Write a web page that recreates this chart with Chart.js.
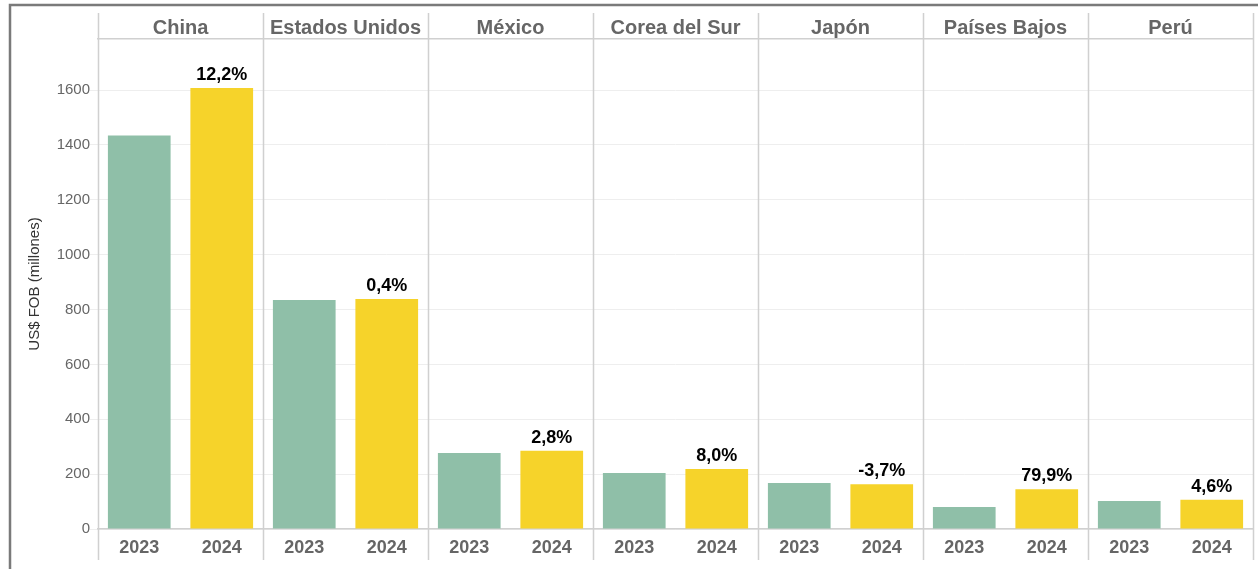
<!DOCTYPE html>
<html>
<head>
<meta charset="utf-8">
<script src="https://cdn.jsdelivr.net/npm/chart.js@4"></script>
<style>
  body { margin: 0; background: #fff; }
  #wrap { width: 1258px; height: 569px; position: relative; }
</style>
</head>
<body>
<div id="wrap"><canvas id="bar-chart"></canvas></div>
<script>
var countries = ['China', 'Estados Unidos', 'México', 'Corea del Sur', 'Japón', 'Países Bajos', 'Perú'];
var years = ['2023', '2024'];
var values2023 = [1434, 835, 277, 204, 168, 80, 102];
var values2024 = [1607, 838, 285, 219, 163, 145, 107];
var growthLabels = ['12,2%', '0,4%', '2,8%', '8,0%', '-3,7%', '79,9%', '4,6%'];
var yTicks = [0, 200, 400, 600, 800, 1000, 1200, 1400, 1600];

var green = '#8fbfa8';
var yellow = '#f6d32a';

// one bar per country/year, in order
var labels = [];
var values = [];
var colors = [];
countries.forEach(function(c, i) {
  labels.push(years[0], years[1]);
  values.push(values2023[i], values2024[i]);
  colors.push(green, yellow);
});

var frameAndSeparators = {
  id: 'frameAndSeparators',
  afterDraw: function(chart) {
    var ctx = chart.ctx;
    var area = chart.chartArea;
    var step = (area.right - area.left) / countries.length;
    ctx.save();
    ctx.strokeStyle = '#d0d0d0';
    ctx.lineWidth = 1.5;
    for (var i = 0; i <= countries.length; i++) {
      var x = Math.round(area.left + i * step) + 0.5;
      ctx.beginPath();
      ctx.moveTo(x, 13);
      ctx.lineTo(x, 560);
      ctx.stroke();
    }
    // outer frame
    ctx.strokeStyle = '#7a7a7a';
    ctx.lineWidth = 2.5;
    ctx.beginPath();
    ctx.moveTo(10, 569);
    ctx.lineTo(10, 5);
    ctx.lineTo(1258, 5);
    ctx.stroke();
    ctx.restore();
  }
};

var growthText = {
  id: 'growthText',
  afterDatasetsDraw: function(chart) {
    var ctx = chart.ctx;
    var bars = chart.getDatasetMeta(0).data;
    ctx.save();
    ctx.font = 'bold 18px "Liberation Sans", Arial, sans-serif';
    ctx.fillStyle = '#000';
    ctx.textAlign = 'center';
    ctx.textBaseline = 'alphabetic';
    for (var i = 0; i < countries.length; i++) {
      var b = bars[i * 2 + 1];
      ctx.fillText(growthLabels[i], b.x, b.y - 8);
    }
    ctx.restore();
  }
};

new Chart(document.getElementById('bar-chart'), {
  type: 'bar',
  data: {
    labels: labels,
    datasets: [{
      data: values,
      backgroundColor: colors,
      barPercentage: 0.76,
      categoryPercentage: 1.0
    }]
  },
  options: {
    responsive: true,
    maintainAspectRatio: false,
    animation: false,
    layout: { padding: { top: 13, left: 12, right: 5, bottom: 9 } },
    plugins: {
      legend: { display: false },
      tooltip: { enabled: false }
    },
    scales: {
      x: {
        position: 'bottom',
        grid: { display: false },
        border: { display: true, color: '#d0d0d0', width: 1.5 },
        ticks: {
          color: '#666',
          padding: 0,
          font: { family: '"Liberation Sans", Arial, sans-serif', size: 18, weight: 'bold' }
        },
        afterFit: function(scale) { scale.height = 31; }
      },
      x2: {
        type: 'category',
        labels: countries,
        position: 'top',
        offset: true,
        grid: { display: false },
        border: { display: true, color: '#d0d0d0', width: 1.5 },
        ticks: {
          color: '#666',
          padding: -9,
          font: { family: '"Liberation Sans", Arial, sans-serif', size: 20, weight: 'bold' }
        },
        afterFit: function(scale) { scale.height = 26; }
      },
      y: {
        min: 0,
        max: 1786,
        afterBuildTicks: function(scale) {
          scale.ticks = yTicks.map(function(v) { return { value: v }; });
        },
        grid: { color: '#eeeeee', tickLength: 8, tickColor: '#eeeeee' },
        border: { display: false },
        ticks: {
          color: '#666',
          padding: 0,
          font: { family: '"Liberation Sans", Arial, sans-serif', size: 15 },
          callback: function(v) { return String(v); }
        },
        title: {
          display: true,
          text: 'US$ FOB (millones)',
          color: '#333',
          padding: { top: 14, bottom: 0 },
          font: { family: '"Liberation Sans", Arial, sans-serif', size: 15 }
        },
        afterFit: function(scale) { scale.width = 86; }
      }
    }
  },
  plugins: [frameAndSeparators, growthText]
});
</script>
</body>
</html>
